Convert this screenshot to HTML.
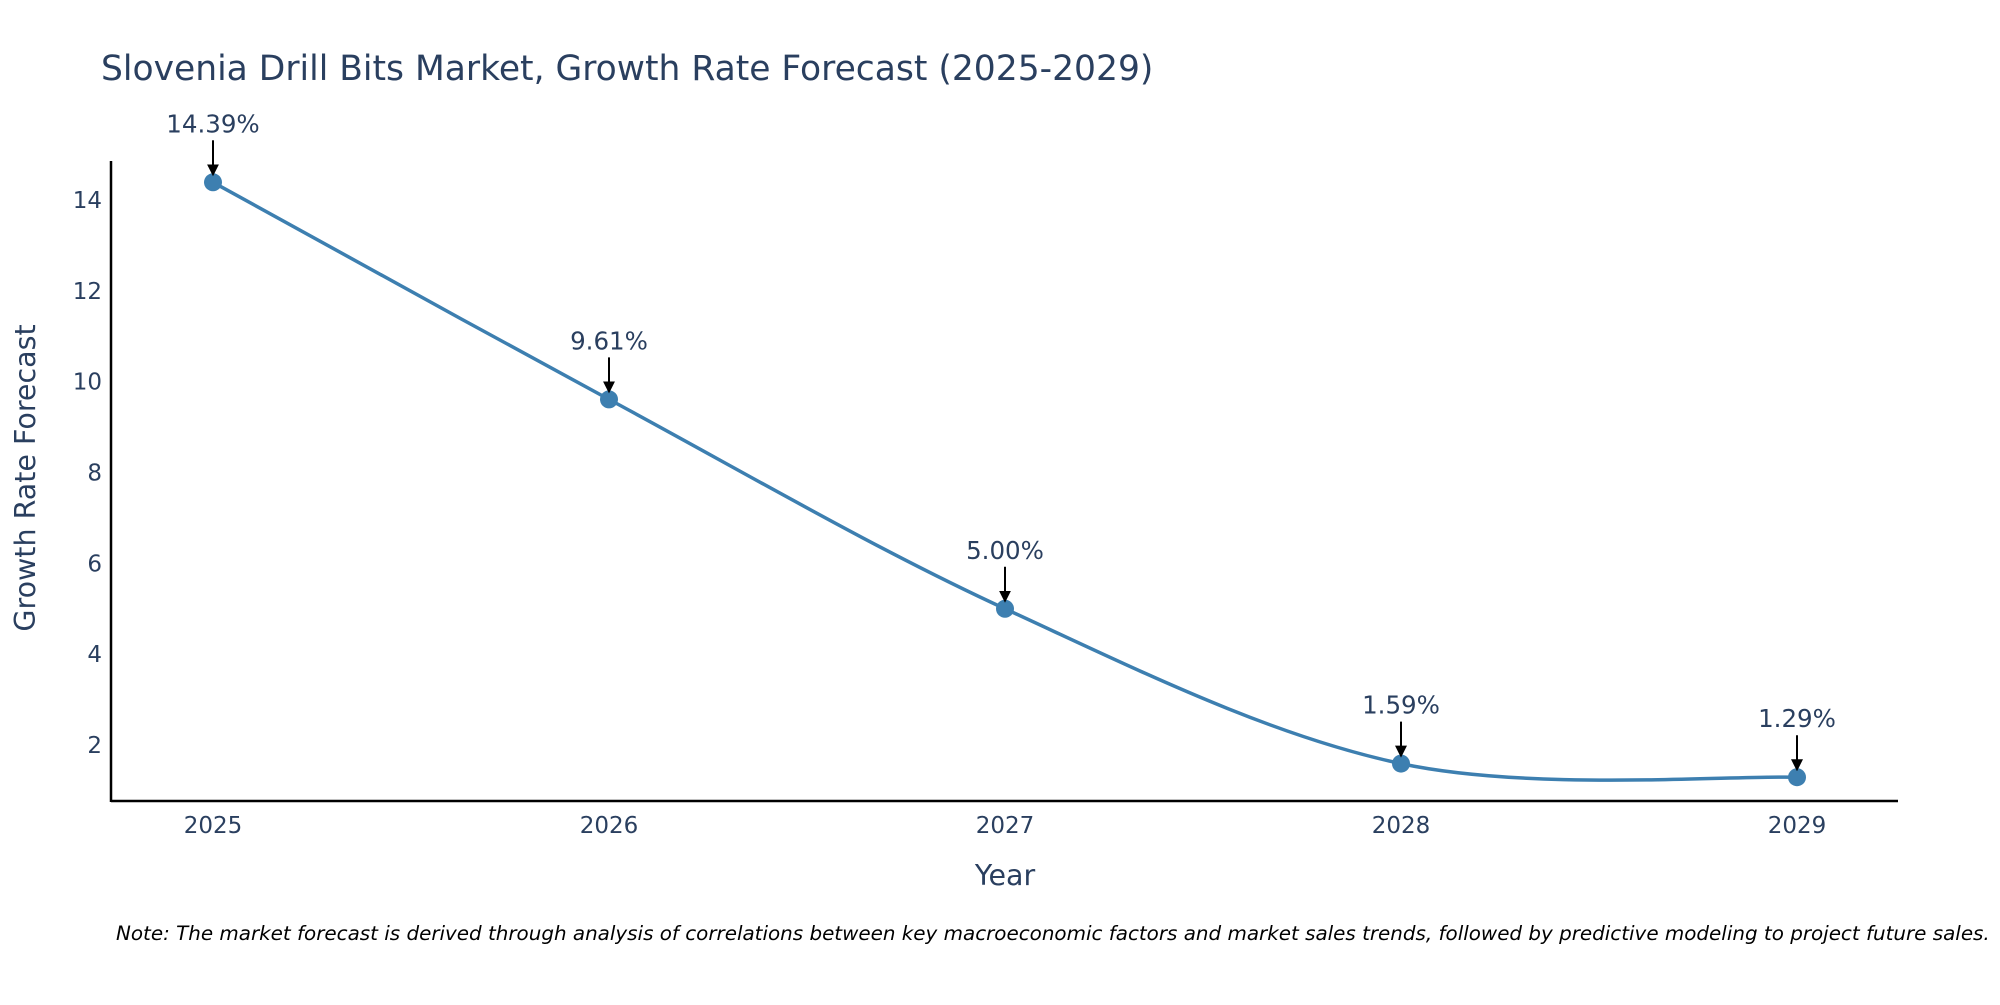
<!DOCTYPE html>
<html><head><meta charset="utf-8"><style>
body{margin:0;background:#fff;}
svg text{font-family:"DejaVu Sans","Liberation Sans",sans-serif;fill:#2a3f5f;}
</style></head><body>
<svg id="chart" width="2000" height="1000" xmlns="http://www.w3.org/2000/svg">
<defs><marker id="ah" markerWidth="6" markerHeight="6" refX="3" refY="3" orient="auto"><path d="M0,0 L6,3 L0,6 Z" fill="#000"/></marker></defs>
<text x="101" y="80" font-size="34.5">Slovenia Drill Bits Market, Growth Rate Forecast (2025-2029)</text>
<g id="plot"></g>
<text x="1005" y="885" font-size="28.5" text-anchor="middle">Year</text>
<text x="0" y="0" font-size="28.5" text-anchor="middle" transform="translate(35,478) rotate(-90)">Growth Rate Forecast</text>
<text x="116" y="940" font-size="19.9" font-style="italic" style="fill:#000">Note: The market forecast is derived through analysis of correlations between key macroeconomic factors and market sales trends, followed by predictive modeling to project future sales.</text>
</svg>
<script>
const years=[2025,2026,2027,2028,2029];
const values=[14.39,9.61,5.00,1.59,1.29];
const labels=["14.39%","9.61%","5.00%","1.59%","1.29%"];
const yTicks=[2,4,6,8,10,12,14];
const NS="http://www.w3.org/2000/svg";
const g=document.getElementById('plot');
const X=y=>213+(y-2025)*(1797-213)/4;
const Y=v=>745-(v-2)*(545/12);
function mk(t,a){const e=document.createElementNS(NS,t);for(const k in a)e.setAttribute(k,a[k]);g.appendChild(e);return e;}
let e;
e=mk('line',{x1:111,y1:801,x2:1898,y2:801,stroke:'#000','stroke-width':2.5});


e=mk('line',{x1:111,y1:161,x2:111,y2:802,stroke:'#000','stroke-width':2.5});


yTicks.forEach(t=>{e=mk('text',{x:102,y:Y(t)+8,'font-size':23,'text-anchor':'end'});e.textContent=t;

});
years.forEach(yr=>{e=mk('text',{x:X(yr),y:833,'font-size':23,'text-anchor':'middle'});e.textContent=yr;

});
const P=years.map((yr,i)=>[X(yr),Y(values[i])]);
let d=`M${P[0][0]},${P[0][1]}`;
const s=1/3;
for(let i=0;i<P.length-1;i++){const p0=P[i-1]||P[i],p1=P[i],p2=P[i+1],p3=P[i+2]||P[i+1];
const c1=[p1[0]+(p2[0]-p0[0])*s/2,p1[1]+(p2[1]-p0[1])*s/2],c2=[p2[0]-(p3[0]-p1[0])*s/2,p2[1]-(p3[1]-p1[1])*s/2];
d+=` C${c1[0]},${c1[1]} ${c2[0]},${c2[1]} ${p2[0]},${p2[1]}`;}
e=mk('path',{d:d,fill:'none',stroke:'#3d7fb0','stroke-width':3.5});


P.forEach((p,i)=>{e=mk('circle',{cx:p[0],cy:p[1],r:9,fill:'#3d7fb0'});


e=mk('line',{x1:p[0],y1:p[1]-42,x2:p[0],y2:p[1]-12,stroke:'#000','stroke-width':2,'marker-end':'url(#ah)'});


e=mk('text',{x:p[0],y:p[1]-50,'font-size':24.5,'text-anchor':'middle'});e.textContent=labels[i];

});
</script>
</body></html>
